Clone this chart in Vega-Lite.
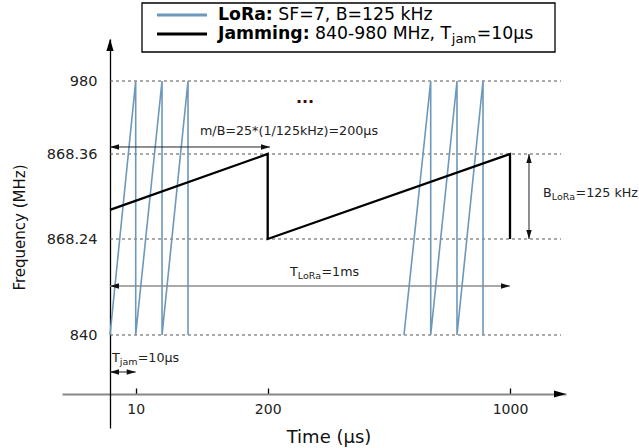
{
  "$schema": "https://vega.github.io/schema/vega-lite/v6.json",
  "width": 504,
  "height": 389,
  "autosize": {"type": "none"},
  "padding": {"left": 62, "top": 39, "right": 73, "bottom": 20},
  "background": "white",
  "config": {"view": {"stroke": null}, "font": "DejaVu Sans"},
  "datasets": {
    "grid": [
      {"x": 0, "x2": 1168.4, "y": 980},
      {"x": 0, "x2": 1168.4, "y": 868.36},
      {"x": 0, "x2": 1168.4, "y": 868.24},
      {"x": 0, "x2": 1168.4, "y": 840}
    ],
    "signals": [
      {"series": "LoRa", "seg": 1, "i": 0, "x": 0, "y": 840},
      {"series": "LoRa", "seg": 1, "i": 1, "x": 10, "y": 980},
      {"series": "LoRa", "seg": 1, "i": 2, "x": 10, "y": 840},
      {"series": "LoRa", "seg": 1, "i": 3, "x": 47.9, "y": 980},
      {"series": "LoRa", "seg": 1, "i": 4, "x": 47.9, "y": 840},
      {"series": "LoRa", "seg": 1, "i": 5, "x": 85.3, "y": 980},
      {"series": "LoRa", "seg": 1, "i": 6, "x": 85.3, "y": 840},
      {"series": "LoRa", "seg": 2, "i": 0, "x": 650, "y": 840},
      {"series": "LoRa", "seg": 2, "i": 1, "x": 738.2, "y": 980},
      {"series": "LoRa", "seg": 2, "i": 2, "x": 738.2, "y": 840},
      {"series": "LoRa", "seg": 2, "i": 3, "x": 825, "y": 980},
      {"series": "LoRa", "seg": 2, "i": 4, "x": 825, "y": 840},
      {"series": "LoRa", "seg": 2, "i": 5, "x": 910.9, "y": 980},
      {"series": "LoRa", "seg": 2, "i": 6, "x": 910.9, "y": 840},
      {"series": "Jamming", "seg": 3, "i": 0, "x": 0, "y": 868.281},
      {"series": "Jamming", "seg": 3, "i": 1, "x": 200, "y": 868.36},
      {"series": "Jamming", "seg": 3, "i": 2, "x": 200, "y": 868.24},
      {"series": "Jamming", "seg": 3, "i": 3, "x": 1000, "y": 868.36},
      {"series": "Jamming", "seg": 3, "i": 4, "x": 1000, "y": 868.24}
    ],
    "arrows": [
      {"name": "mB", "x": 0, "x2": 207.6, "y": 879.07, "y2": 879.07},
      {"name": "TLoRa", "x": 0, "x2": 1000, "y": 854.41, "y2": 854.41},
      {"name": "Tjam", "x": 0, "x2": 10, "y": 829.12, "y2": 829.12},
      {"name": "BLoRa", "x": 1062.7, "x2": 1062.7, "y": 868.24, "y2": 868.36}
    ],
    "heads": [
      {"x": 0, "y": 879.07, "dir": "left"},
      {"x": 207.6, "y": 879.07, "dir": "right"},
      {"x": 0, "y": 854.41, "dir": "left"},
      {"x": 1000, "y": 854.41, "dir": "right"},
      {"x": 0, "y": 829.12, "dir": "left"},
      {"x": 10, "y": 829.12, "dir": "right"},
      {"x": 1062.7, "y": 868.36, "dir": "up"},
      {"x": 1062.7, "y": 868.24, "dir": "down"}
    ],
    "axisheads": [
      {"x": 1184.9, "y": 822.64, "dir": "right"},
      {"x": 0, "y": 1044.23, "dir": "up"}
    ],
    "notes": [
      {"x": 102.55, "y": 903.5, "text": "m/B=25*(1/125kHz)=200μs"},
      {"x": 273.6, "y": 858.53, "text": "T"},
      {"x": 377.6, "y": 858.53, "text": "=1ms"},
      {"x": 1108.95, "y": 868.305, "text": "B"},
      {"x": 1216.3, "y": 868.305, "text": "=125 kHz"},
      {"x": 0.78, "y": 833.23, "text": "T"},
      {"x": 12.88, "y": 833.23, "text": "=10μs"}
    ],
    "subs": [
      {"x": 299.4, "y": 857.36, "text": "LoRa"},
      {"x": 1138.0, "y": 868.299, "text": "LoRa"},
      {"x": 3.81, "y": 832.06, "text": "jam"}
    ],
    "dots": [{"x": 323.2, "y": 946.4, "text": "..."}],
    "legendbox": [{"x": 19.07, "x2": 1148.6, "y": 1099.3, "y2": 1024.35}],
    "legendlines": [
      {"series": "LoRa", "x": 40.66, "x2": 112.63, "y": 1080.94},
      {"series": "Jamming", "x": 40.66, "x2": 112.63, "y": 1051.88}
    ],
    "legendbold": [
      {"x": 128.46, "y": 1080.94, "text": "LoRa:"},
      {"x": 128.46, "y": 1051.88, "text": "Jamming:"}
    ],
    "legendtext": [
      {"x": 235.0, "y": 1080.94, "text": "SF=7, B=125 kHz"},
      {"x": 356.0, "y": 1051.88, "text": "840-980 MHz, T"},
      {"x": 890.0, "y": 1051.88, "text": "=10μs"}
    ],
    "legendsub": [{"x": 808.0, "y": 1044.23, "text": "jam"}]
  },
  "layer": [
    {
      "data": {"name": "grid"},
      "mark": {"type": "rule", "strokeDash": [3, 3], "color": "#555555", "strokeWidth": 1},
      "encoding": {
        "x": {
          "field": "x", "type": "quantitative",
          "scale": {"domain": [-18.68, 0, 10, 200, 1000, 1184.9], "range": [0, 48, 73.7, 205.7, 448, 504], "nice": false, "zero": false},
          "axis": {
            "values": [10, 200, 1000], "title": "Time (μs)", "offset": -34, "grid": false,
            "domainColor": "#888888", "domainWidth": 2, "tickColor": "#000000", "tickSize": -6, "tickWidth": 1.3,
            "labelPadding": 14, "labelFontSize": 14, "labelColor": "#222222", "labelFont": "DejaVu Sans",
            "labelExpr": "'' + datum.value",
            "titleFont": "DejaVu Sans", "titleFontSize": 18, "titleFontWeight": "normal", "titleColor": "#111111",
            "titleX": 266.5, "titleY": 43, "titleAlign": "center", "titleBaseline": "middle"
          }
        },
        "x2": {"field": "x2"},
        "y": {
          "field": "y", "type": "quantitative",
          "scale": {"domain": [812.64, 840, 868.24, 868.36, 980, 1044.23], "range": [389, 296, 200, 115, 42, 0], "nice": false, "zero": false},
          "axis": {
            "values": [840, 868.24, 868.36, 980], "title": "Frequency (MHz)", "offset": -48, "grid": false,
            "domainColor": "#000000", "domainWidth": 1.3, "ticks": false,
            "labelPadding": 13, "labelFontSize": 14.5, "labelColor": "#222222", "labelFont": "DejaVu Sans",
            "labelExpr": "'' + datum.value",
            "titleFont": "DejaVu Sans", "titleFontSize": 15, "titleFontWeight": "normal", "titleColor": "#111111",
            "titleX": -91, "titleY": 188, "titleAngle": -90, "titleAlign": "center", "titleBaseline": "middle"
          }
        }
      }
    },
    {
      "data": {"name": "signals"},
      "transform": [{"filter": "datum.series === 'LoRa'"}],
      "mark": {"type": "line", "strokeWidth": 1.6},
      "encoding": {
        "x": {"field": "x", "type": "quantitative"},
        "y": {"field": "y", "type": "quantitative"},
        "color": {"field": "series", "type": "nominal", "scale": {"domain": ["LoRa", "Jamming"], "range": ["#6c98bb", "#000000"]}, "legend": null},
        "detail": {"field": "seg", "type": "nominal"},
        "order": {"field": "i", "type": "quantitative"}
      }
    },
    {
      "data": {"name": "signals"},
      "transform": [{"filter": "datum.series === 'Jamming'"}],
      "mark": {"type": "line", "strokeWidth": 2.3},
      "encoding": {
        "x": {"field": "x", "type": "quantitative"},
        "y": {"field": "y", "type": "quantitative"},
        "color": {"field": "series", "type": "nominal", "legend": null},
        "detail": {"field": "seg", "type": "nominal"},
        "order": {"field": "i", "type": "quantitative"}
      }
    },
    {
      "data": {"name": "arrows"},
      "transform": [{"filter": "datum.name !== 'TLoRa'"}],
      "mark": {"type": "rule", "color": "#222222", "strokeWidth": 1},
      "encoding": {
        "x": {"field": "x", "type": "quantitative"},
        "x2": {"field": "x2"},
        "y": {"field": "y", "type": "quantitative"},
        "y2": {"field": "y2"}
      }
    },
    {
      "data": {"name": "arrows"},
      "transform": [{"filter": "datum.name === 'TLoRa'"}],
      "mark": {"type": "rule", "color": "#8c8c8c", "strokeWidth": 1.5},
      "encoding": {
        "x": {"field": "x", "type": "quantitative"},
        "x2": {"field": "x2"},
        "y": {"field": "y", "type": "quantitative"},
        "y2": {"field": "y2"}
      }
    },
    {
      "data": {"name": "heads"},
      "mark": {"type": "point", "filled": true, "size": 81, "color": "#111111", "opacity": 1, "strokeWidth": 0},
      "encoding": {
        "x": {"field": "x", "type": "quantitative"},
        "y": {"field": "y", "type": "quantitative"},
        "shape": {
          "field": "dir", "type": "nominal", "legend": null,
          "scale": {"domain": ["right", "down", "left", "up"], "range": ["M0,0L-2,-0.6L-2,0.6Z", "M0,0L-0.6,-2L0.6,-2Z", "M0,0L2,-0.6L2,0.6Z", "M0,0L-0.6,2L0.6,2Z"]}
        }
      }
    },
    {
      "data": {"name": "axisheads"},
      "mark": {"type": "point", "filled": true, "size": 144, "color": "#000000", "opacity": 1, "strokeWidth": 0},
      "encoding": {
        "x": {"field": "x", "type": "quantitative"},
        "y": {"field": "y", "type": "quantitative"},
        "shape": {"field": "dir", "type": "nominal", "legend": null}
      }
    },
    {
      "data": {"name": "notes"},
      "mark": {"type": "text", "font": "DejaVu Sans", "fontSize": 12.7, "align": "left", "baseline": "middle", "color": "#222222"},
      "encoding": {
        "x": {"field": "x", "type": "quantitative"},
        "y": {"field": "y", "type": "quantitative"},
        "text": {"field": "text"}
      }
    },
    {
      "data": {"name": "subs"},
      "mark": {"type": "text", "font": "DejaVu Sans", "fontSize": 9.5, "align": "left", "baseline": "middle", "color": "#222222"},
      "encoding": {
        "x": {"field": "x", "type": "quantitative"},
        "y": {"field": "y", "type": "quantitative"},
        "text": {"field": "text"}
      }
    },
    {
      "data": {"name": "dots"},
      "mark": {"type": "text", "font": "DejaVu Sans", "fontSize": 16, "fontWeight": "bold", "align": "center", "baseline": "alphabetic", "color": "#3d0c0c"},
      "encoding": {
        "x": {"field": "x", "type": "quantitative"},
        "y": {"field": "y", "type": "quantitative"},
        "text": {"field": "text"}
      }
    },
    {
      "data": {"name": "legendbox"},
      "mark": {"type": "rect", "fill": "white", "stroke": "#000000", "strokeWidth": 1.3},
      "encoding": {
        "x": {"field": "x", "type": "quantitative"},
        "x2": {"field": "x2"},
        "y": {"field": "y", "type": "quantitative"},
        "y2": {"field": "y2"}
      }
    },
    {
      "data": {"name": "legendlines"},
      "mark": {"type": "rule", "strokeWidth": 3},
      "encoding": {
        "x": {"field": "x", "type": "quantitative"},
        "x2": {"field": "x2"},
        "y": {"field": "y", "type": "quantitative"},
        "color": {"field": "series", "type": "nominal", "legend": null}
      }
    },
    {
      "data": {"name": "legendbold"},
      "mark": {"type": "text", "font": "DejaVu Sans", "fontSize": 17.3, "fontWeight": "bold", "align": "left", "baseline": "middle", "color": "#000000"},
      "encoding": {
        "x": {"field": "x", "type": "quantitative"},
        "y": {"field": "y", "type": "quantitative"},
        "text": {"field": "text"}
      }
    },
    {
      "data": {"name": "legendtext"},
      "mark": {"type": "text", "font": "DejaVu Sans", "fontSize": 17.3, "align": "left", "baseline": "middle", "color": "#000000"},
      "encoding": {
        "x": {"field": "x", "type": "quantitative"},
        "y": {"field": "y", "type": "quantitative"},
        "text": {"field": "text"}
      }
    },
    {
      "data": {"name": "legendsub"},
      "mark": {"type": "text", "font": "DejaVu Sans", "fontSize": 13, "align": "left", "baseline": "middle", "color": "#000000"},
      "encoding": {
        "x": {"field": "x", "type": "quantitative"},
        "y": {"field": "y", "type": "quantitative"},
        "text": {"field": "text"}
      }
    }
  ]
}
